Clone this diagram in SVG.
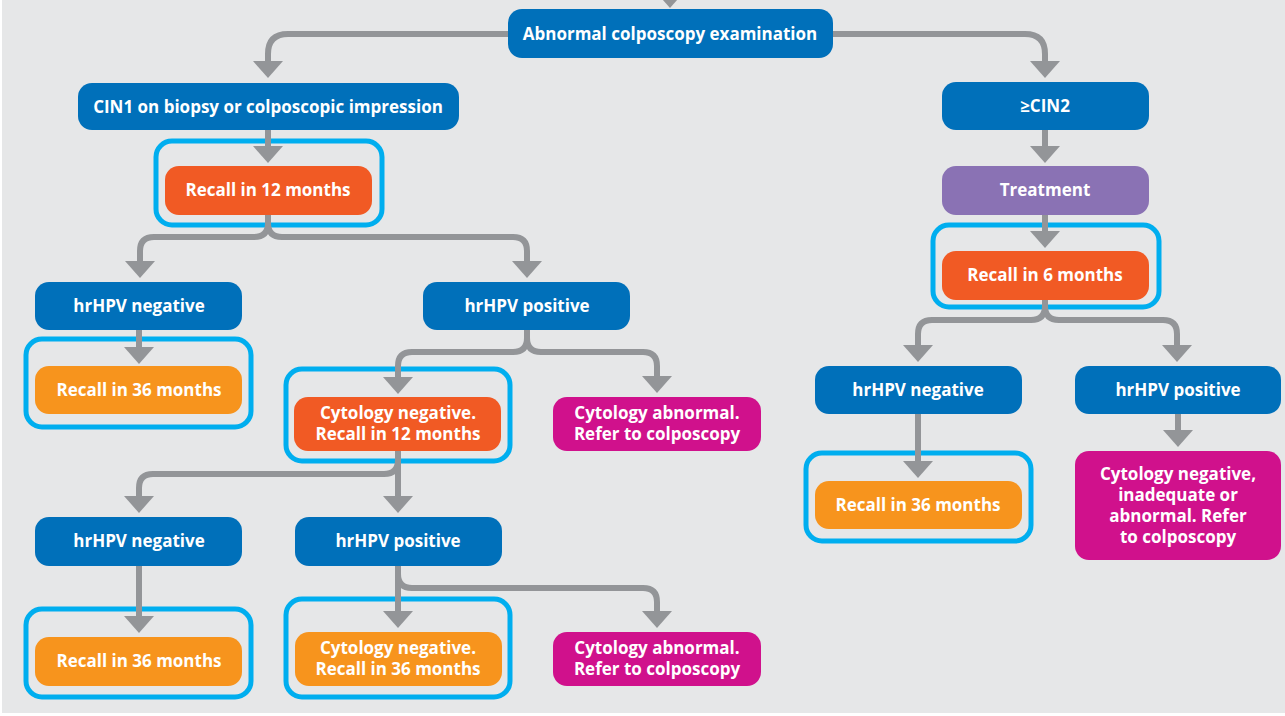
<svg xmlns="http://www.w3.org/2000/svg" width="1285" height="716" viewBox="0 0 1285 716">
<defs>
<style>
.bg{fill:#e6e7e8}
.frame{fill:none;stroke:#00aeef;stroke-width:5}
.con{fill:none;stroke:#939598;stroke-width:6}
.blue{fill:#0070ba}
.red{fill:#f15a24}
.orange{fill:#f7941d}
.mag{fill:#d0118c}
.purple{fill:#8a72b4}
text{font-family:"Open Sans","Liberation Sans",sans-serif;font-weight:700;font-size:17px;fill:#ffffff;text-anchor:middle}
</style>
<marker id="ah" viewBox="0 0 17 30" refX="0" refY="15" markerWidth="17" markerHeight="30" markerUnits="userSpaceOnUse" orient="auto">
<path d="M0,0 L17,15 L0,30 Z" fill="#939598"/>
</marker>
</defs>
<rect x="0" y="0" width="1285" height="716" fill="#ffffff"/>
<rect class="bg" x="2" y="0" width="1283" height="713"/>

<g id="frames">
<rect class="frame" x="156" y="141" width="226" height="84" rx="16"/>
<rect class="frame" x="26" y="339" width="225" height="88" rx="16"/>
<rect class="frame" x="286" y="369" width="224" height="92" rx="16"/>
<rect class="frame" x="26" y="609" width="225" height="88" rx="16"/>
<rect class="frame" x="286" y="599" width="224" height="98" rx="16"/>
<rect class="frame" x="933" y="225" width="226" height="82" rx="16"/>
<rect class="frame" x="806" y="453" width="225" height="88" rx="16"/>
</g>

<g id="connectors">
<polygon points="655,-9 685,-9 670,8" fill="#939598"/>
<path class="con" d="M670,-20 V-8"/>
<path class="con" marker-end="url(#ah)" d="M508,34 H288 Q268,34 268,54 V61"/>
<path class="con" marker-end="url(#ah)" d="M833,34 H1025 Q1045,34 1045,54 V61"/>
<path class="con" marker-end="url(#ah)" d="M268,130 V146"/>
<path class="con" marker-end="url(#ah)" d="M268,215 V223 Q268,237 254,237 H154 Q140,237 140,251 V261"/>
<path class="con" marker-end="url(#ah)" d="M268,215 V223 Q268,237 282,237 H513 Q527,237 527,251 V261"/>
<path class="con" marker-end="url(#ah)" d="M139,330 V347"/>
<path class="con" marker-end="url(#ah)" d="M527,330 V338 Q527,352 513,352 H412 Q398,352 398,366 V377"/>
<path class="con" marker-end="url(#ah)" d="M527,330 V338 Q527,352 541,352 H643 Q657,352 657,366 V376"/>
<path class="con" marker-end="url(#ah)" d="M398,451 V460 Q398,474 384,474 H153 Q139,474 139,488 V496"/>
<path class="con" marker-end="url(#ah)" d="M398,451 V496"/>
<path class="con" marker-end="url(#ah)" d="M139,566 V616"/>
<path class="con" marker-end="url(#ah)" d="M398,566 V611"/>
<path class="con" marker-end="url(#ah)" d="M398,566 V574 Q398,588 412,588 H643 Q657,588 657,602 V611"/>
<path class="con" marker-end="url(#ah)" d="M1045,130 V146"/>
<path class="con" marker-end="url(#ah)" d="M1045,215 V231"/>
<path class="con" marker-end="url(#ah)" d="M1045,300 V306 Q1045,320 1031,320 H932 Q918,320 918,334 V345"/>
<path class="con" marker-end="url(#ah)" d="M1045,300 V306 Q1045,320 1059,320 H1163 Q1177,320 1177,334 V345"/>
<path class="con" marker-end="url(#ah)" d="M918,414 V461"/>
<path class="con" marker-end="url(#ah)" d="M1178,414 V430"/>
</g>

<g id="n-abnormal"><rect class="blue" x="508" y="9" width="325" height="49" rx="14"/><text x="670" y="40">Abnormal colposcopy examination</text></g>
<g id="n-cin1"><rect class="blue" x="78" y="83" width="381" height="47" rx="14"/><text x="268" y="113">CIN1 on biopsy or colposcopic impression</text></g>
<g id="n-recall12"><rect class="red" x="165" y="166" width="207" height="49" rx="14"/><text x="268" y="196">Recall in 12 months</text></g>
<g id="n-neg1"><rect class="blue" x="35" y="282" width="207" height="48" rx="14"/><text x="139" y="312">hrHPV negative</text></g>
<g id="n-pos1"><rect class="blue" x="423" y="282" width="207" height="48" rx="14"/><text x="527" y="312">hrHPV positive</text></g>
<g id="n-recall36a"><rect class="orange" x="35" y="366" width="207" height="48" rx="14"/><text x="139" y="396">Recall in 36 months</text></g>
<g id="n-cytneg12"><rect class="red" x="294" y="397" width="207" height="54" rx="14"/><text x="398" y="419">Cytology negative.</text><text x="398" y="440">Recall in 12 months</text></g>
<g id="n-cytabn1"><rect class="mag" x="553" y="397" width="208" height="54" rx="14"/><text x="657" y="419">Cytology abnormal.</text><text x="657" y="440">Refer to colposcopy</text></g>
<g id="n-neg2"><rect class="blue" x="35" y="517" width="207" height="49" rx="14"/><text x="139" y="547">hrHPV negative</text></g>
<g id="n-pos2"><rect class="blue" x="295" y="517" width="207" height="49" rx="14"/><text x="398" y="547">hrHPV positive</text></g>
<g id="n-recall36b"><rect class="orange" x="35" y="637" width="207" height="49" rx="14"/><text x="139" y="667">Recall in 36 months</text></g>
<g id="n-cytneg36"><rect class="orange" x="295" y="632" width="207" height="54" rx="14"/><text x="398" y="654">Cytology negative.</text><text x="398" y="675">Recall in 36 months</text></g>
<g id="n-cytabn2"><rect class="mag" x="553" y="632" width="208" height="54" rx="14"/><text x="657" y="654">Cytology abnormal.</text><text x="657" y="675">Refer to colposcopy</text></g>
<g id="n-cin2"><rect class="blue" x="942" y="82" width="207" height="48" rx="14"/><text x="1045" y="112">≥CIN2</text></g>
<g id="n-treatment"><rect class="purple" x="942" y="166" width="207" height="49" rx="14"/><text x="1045" y="196">Treatment</text></g>
<g id="n-recall6"><rect class="red" x="942" y="251" width="207" height="49" rx="14"/><text x="1045" y="281">Recall in 6 months</text></g>
<g id="n-neg3"><rect class="blue" x="815" y="366" width="207" height="48" rx="14"/><text x="918" y="396">hrHPV negative</text></g>
<g id="n-pos3"><rect class="blue" x="1075" y="366" width="206" height="48" rx="14"/><text x="1178" y="396">hrHPV positive</text></g>
<g id="n-recall36c"><rect class="orange" x="815" y="481" width="207" height="48" rx="14"/><text x="918" y="511">Recall in 36 months</text></g>
<g id="n-cytany"><rect class="mag" x="1075" y="451" width="206" height="109" rx="14"/><text x="1178" y="480">Cytology negative,</text><text x="1178" y="501">inadequate or</text><text x="1178" y="522">abnormal. Refer</text><text x="1178" y="543">to colposcopy</text></g>
</svg>
